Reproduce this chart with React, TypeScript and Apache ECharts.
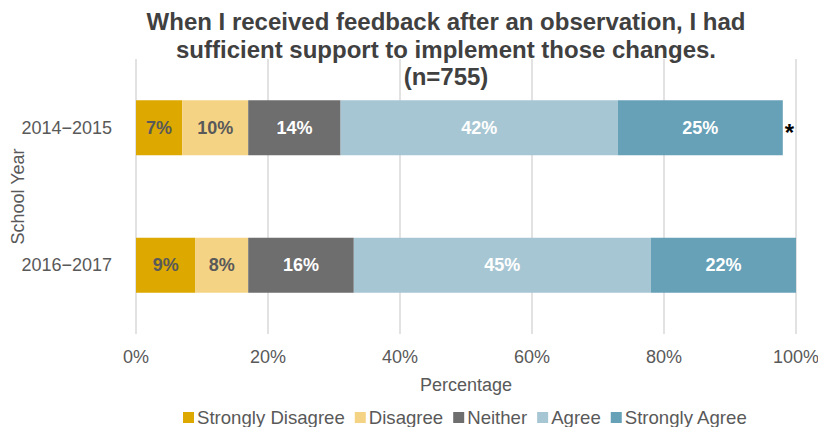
import React, { useEffect, useRef } from "react";
import * as echarts from "echarts";

const categories = ["2014−2015", "2016−2017"];
const seriesNames = ["Strongly Disagree", "Disagree", "Neither", "Agree", "Strongly Agree"];
const stronglyDisagree = [7, 9];
const disagree = [10, 8];
const neither = [14, 16];
const agree = [42, 45];
const stronglyAgree = [25, 22];
const notes = ["*", ""];
const xTicks = [0, 20, 40, 60, 80, 100];

const colors = ["#DDA900", "#F5D384", "#6E6E6E", "#A7C6D3", "#66A1B8"];
const labelColors = ["#595959", "#595959", "#ffffff", "#ffffff", "#ffffff"];
const FONT = "'Liberation Sans', Arial, sans-serif";

export default function App() {
  const ref = useRef<HTMLDivElement>(null);
  useEffect(() => {
    if (!ref.current) return;
    const chart = echarts.init(ref.current, null, { renderer: "svg" });
    const values = [stronglyDisagree, disagree, neither, agree, stronglyAgree];
    const series: any[] = values.map((v, i) => ({
      name: seriesNames[i],
      type: "bar",
      stack: "total",
      barWidth: 55,
      data: v,
      itemStyle: { color: colors[i] },
      label: {
        show: true,
        position: "inside",
        formatter: "{c}%",
        color: labelColors[i],
        fontWeight: "bold",
        fontSize: 18,
        fontFamily: FONT,
      },
    }));
    series.push({
      name: "note",
      type: "bar",
      stack: "total",
      barWidth: 55,
      data: notes.map(() => 0),
      itemStyle: { color: "transparent" },
      label: {
        show: true,
        position: "right",
        distance: 2,
        formatter: (p: any) => notes[p.dataIndex],
        color: "#000000",
        fontWeight: "bold",
        fontSize: 24,
        fontFamily: FONT,
        offset: [0, 5],
      },
      tooltip: { show: false },
    });
    chart.setOption({
      animation: false,
      textStyle: { fontFamily: FONT },
      title: {
        text: "When I received feedback after an observation, I had\nsufficient support to implement those changes.\n(n=755)",
        left: 441,
        top: 3,
        textAlign: "center",
        textStyle: {
          fontSize: 24,
          fontWeight: "bold",
          color: "#404040",
          lineHeight: 27.5,
          fontFamily: FONT,
        },
      },
      legend: {
        data: seriesNames,
        top: 403,
        left: 178,
        itemWidth: 11,
        itemHeight: 11,
        itemGap: 10,
        icon: "rect",
        textStyle: { fontSize: 18.6, color: "#595959", fontFamily: FONT, padding: [0, 0, 0, -2] },
      },
      grid: { left: 136, right: 22, top: 59, bottom: 93, containLabel: false, outerBoundsMode: "none" },
      xAxis: {
        type: "value",
        min: xTicks[0],
        max: xTicks[xTicks.length - 1],
        interval: xTicks[1] - xTicks[0],
        name: "Percentage",
        nameLocation: "middle",
        nameGap: 42,
        nameMoveOverlap: false,
        nameTextStyle: { fontSize: 18, color: "#595959", fontFamily: FONT },
        axisLine: { show: false },
        axisTick: { show: false },
        axisLabel: { formatter: "{value}%", fontSize: 18, color: "#595959", margin: 14, fontFamily: FONT },
        splitLine: { show: true, lineStyle: { color: "#d9d9d9", width: 1.5 } },
      },
      yAxis: {
        type: "category",
        data: categories,
        inverse: true,
        name: "School Year",
        nameLocation: "middle",
        nameGap: 109,
        nameMoveOverlap: false,
        nameTextStyle: { fontSize: 18, color: "#595959", fontFamily: FONT },
        axisLine: { show: false },
        axisTick: { show: false },
        axisLabel: { fontSize: 18, color: "#595959", margin: 24, fontFamily: FONT },
        splitLine: { show: false },
      },
      series,
    });
    return () => chart.dispose();
  }, []);
  return (
    <div
      ref={ref}
      style={{ position: "fixed", left: 0, top: 0, width: 818, height: 427, background: "#ffffff" }}
    />
  );
}
